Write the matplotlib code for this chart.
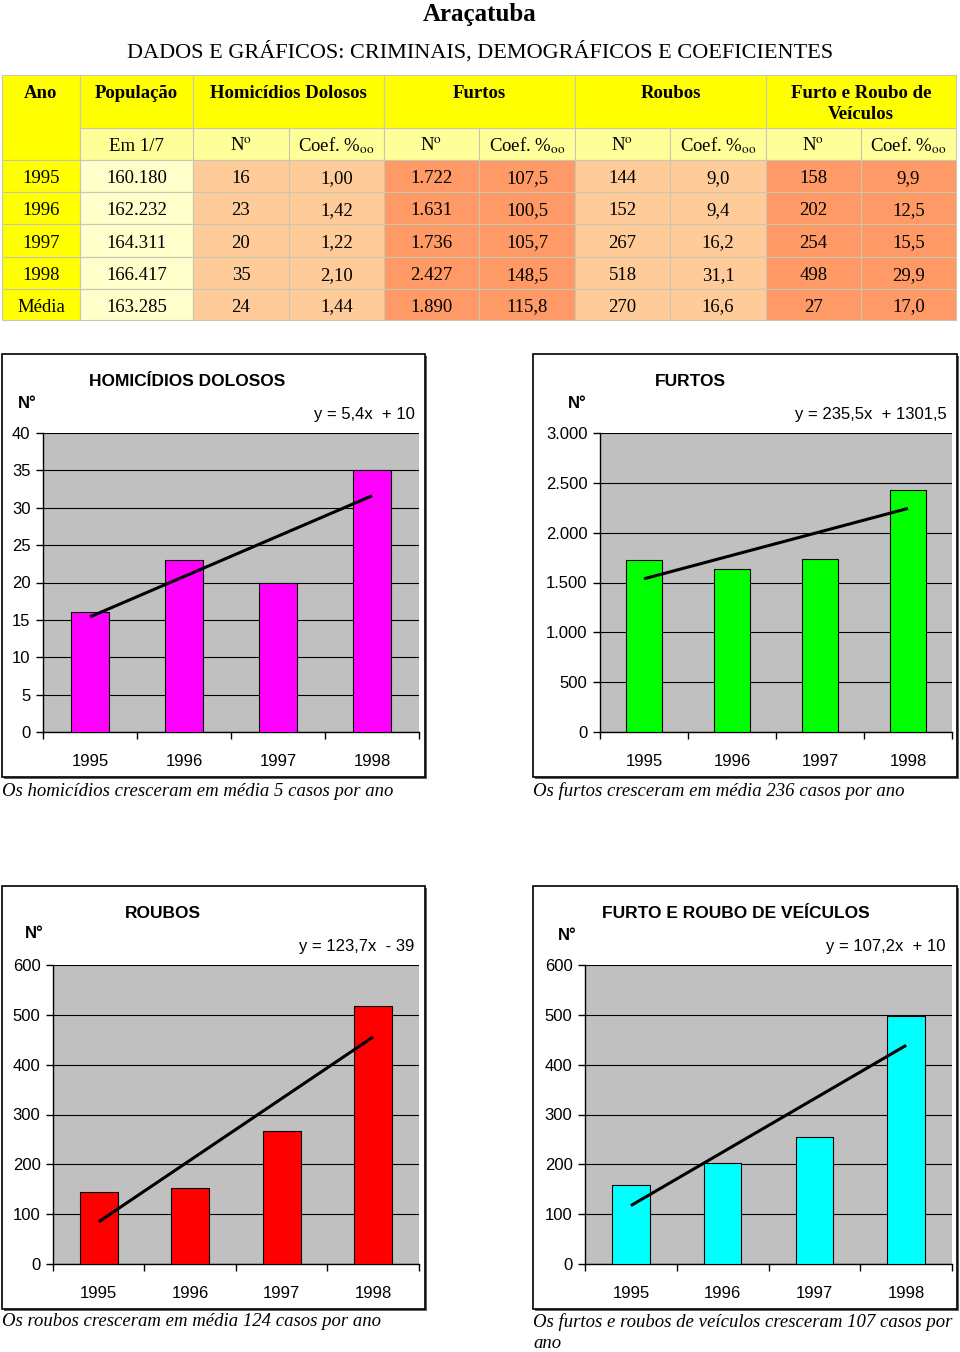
import matplotlib
matplotlib.use('Agg')
import matplotlib.pyplot as plt
from matplotlib.patches import Rectangle
import numpy as np

plt.rcParams['mathtext.fontset'] = 'stix'

W, H = 960, 1352

# Table data
anos = ['1995', '1996', '1997', '1998']
populacao = [160180, 162232, 164311, 166417]
homicidios = [16, 23, 20, 35]
homicidios_coef = [1.00, 1.42, 1.22, 2.10]
furtos = [1722, 1631, 1736, 2427]
furtos_coef = [107.5, 100.5, 105.7, 148.5]
roubos = [144, 152, 267, 518]
roubos_coef = [9.0, 9.4, 16.2, 31.1]
veiculos = [158, 202, 254, 498]
veiculos_coef = [9.9, 12.5, 15.5, 29.9]
# "Média" row as printed in the source
media = [163285, 24, 1.44, 1890, 115.8, 270, 16.6, 27, 17.0]

# trend lines y = a*x + b, x = 1..4
tend_a = [5.4, 235.5, 123.7, 107.2]
tend_b = [10, 1301.5, -39, 10]
tend_txt = ['y = 5,4x  + 10', 'y = 235,5x  + 1301,5', 'y = 123,7x  - 39', 'y = 107,2x  + 10']

SERIF = 'Liberation Serif'
SANS = 'Liberation Sans'


def fmt_int(v):
    return f'{v:,}'.replace(',', '.')


def fmt_dec(v, d):
    return f'{v:.{d}f}'.replace('.', ',')


fig = plt.figure(figsize=(W / 100, H / 100), dpi=100)
bg = fig.add_axes([0, 0, 1, 1])
bg.set_xlim(0, W)
bg.set_ylim(H, 0)
bg.axis('off')

bg.text(480, 14, 'Araçatuba', ha='center', va='center', fontsize=18,
        fontweight='bold', family=SERIF)
bg.text(480, 52, 'DADOS E GRÁFICOS: CRIMINAIS, DEMOGRÁFICOS E COEFICIENTES',
        ha='center', va='center', fontsize=16, family=SERIF)

# ---- table ----
col_x = [2, 80, 193, 289, 384, 479, 575, 670, 766, 861, 956]
row_y = [75, 128, 160, 192, 224, 257, 289, 320]
YEL = '#FFFF00'
PALE = '#FFFF99'
CREAM = '#FFFFCC'
PEACH = '#FFCC99'
ORANGE = '#FF9966'
grp_colors = [PEACH, PEACH, ORANGE, ORANGE, PEACH, PEACH, ORANGE, ORANGE]
line_c = '#C8C8B0'


def cell(c0, c1, r0, r1, color):
    bg.add_patch(Rectangle((col_x[c0], row_y[r0]), col_x[c1] - col_x[c0],
                           row_y[r1] - row_y[r0], facecolor=color,
                           edgecolor=line_c, linewidth=0.8))


def ctext(c0, c1, y, s, bold=False):
    # y is the text baseline
    bg.text((col_x[c0] + col_x[c1]) / 2, y, s, ha='center', va='baseline',
            fontsize=13.5, family=SERIF, fontweight='bold' if bold else 'normal')


# header row
cell(0, 1, 0, 2, YEL)
cell(1, 2, 0, 1, YEL)
for c in (2, 4, 6, 8):
    cell(c, c + 2, 0, 1, YEL)
ctext(0, 1, 98, 'Ano', True)
ctext(1, 2, 98, 'População', True)
ctext(2, 4, 98, 'Homicídios Dolosos', True)
ctext(4, 6, 98, 'Furtos', True)
ctext(6, 8, 98, 'Roubos', True)
ctext(8, 10, 98, 'Furto e Roubo de', True)
ctext(8, 10, 119, 'Veículos', True)

# sub-header row
for c in range(1, 10):
    cell(c, c + 1, 1, 2, PALE)
ybase = (row_y[1] + row_y[2]) / 2 + 7
ctext(1, 2, ybase, 'Em 1/7')
for c in (2, 4, 6, 8):
    ctext(c, c + 1, ybase, r'N$^{\mathrm{o}}$')
    ctext(c + 1, c + 2, ybase, r'Coef. %$_{\mathrm{oo}}$')

rows = []
for i, a in enumerate(anos):
    rows.append([a, fmt_int(populacao[i]), str(homicidios[i]), fmt_dec(homicidios_coef[i], 2),
                 fmt_int(furtos[i]), fmt_dec(furtos_coef[i], 1), str(roubos[i]),
                 fmt_dec(roubos_coef[i], 1), str(veiculos[i]), fmt_dec(veiculos_coef[i], 1)])
rows.append(['Média', fmt_int(media[0]), str(media[1]), fmt_dec(media[2], 2), fmt_int(media[3]),
             fmt_dec(media[4], 1), str(media[5]), fmt_dec(media[6], 1), str(media[7]),
             fmt_dec(media[8], 1)])

for r, vals in enumerate(rows):
    rr = r + 2
    cell(0, 1, rr, rr + 1, YEL)
    cell(1, 2, rr, rr + 1, CREAM)
    for c in range(2, 10):
        cell(c, c + 1, rr, rr + 1, grp_colors[c - 2])
    yb = (row_y[rr] + row_y[rr + 1]) / 2 + 7
    for c, s in enumerate(vals):
        ctext(c, c + 1, yb, s)


# ---- charts ----
def thousand_fmt(v, pos=None):
    return fmt_int(int(v))


def chart(frame, plot, values, ymax, step, color, title, title_xy, n_xy, eq_xy, k, tick_fmt,
          caption, cap_y):
    fx0, fy0, fx1, fy1 = frame
    bg.add_patch(Rectangle((fx0 + 2, fy0 + 2), fx1 - fx0, fy1 - fy0, facecolor='#606060',
                           edgecolor='none', zorder=1))
    bg.add_patch(Rectangle((fx0, fy0), fx1 - fx0, fy1 - fy0, facecolor='white',
                           edgecolor='black', linewidth=1.2, zorder=2))
    bg.text(title_xy[0], title_xy[1], title, ha='center', va='center', fontsize=12.5,
            fontweight='bold', family=SANS, zorder=3)
    bg.text(n_xy[0], n_xy[1], 'N°', ha='left', va='center', fontsize=12,
            fontweight='bold', family=SANS, zorder=3)
    bg.text(eq_xy[0], eq_xy[1], tend_txt[k], ha='right', va='center', fontsize=12,
            family=SANS, zorder=3)
    for txt, yy in zip(caption, cap_y):
        bg.text(fx0, yy, txt, ha='left', va='center', fontsize=13.5,
                style='italic', family=SERIF)

    x0, y0, x1, y1 = plot
    ax = fig.add_axes([x0 / W, 1 - y1 / H, (x1 - x0) / W, (y1 - y0) / H])
    ax.set_facecolor('#C0C0C0')
    xs = np.arange(1, 5)
    ax.bar(xs, values, width=0.41, color=color, edgecolor='black', linewidth=0.8, zorder=3)
    xt = np.array([1, 4])
    ax.plot(xt, tend_a[k] * xt + tend_b[k], color='black', linewidth=2.2, zorder=4,
            solid_capstyle='butt')
    ax.set_xlim(0.5, 4.5)
    ax.set_ylim(0, ymax)
    ax.set_yticks(np.arange(0, ymax + step / 2, step))
    if tick_fmt:
        ax.yaxis.set_major_formatter(plt.FuncFormatter(thousand_fmt))
    ax.set_xticks(xs)
    ax.set_xticklabels(anos)
    ax.set_xticks(np.arange(0.5, 5, 1), minor=True)
    ax.tick_params(axis='x', which='major', length=0, pad=16)
    ax.tick_params(axis='x', which='minor', length=5, width=1, direction='out')
    ax.tick_params(axis='y', length=5, width=1, direction='out', pad=4)
    for lab in ax.get_xticklabels() + ax.get_yticklabels():
        lab.set_family(SANS)
        lab.set_fontsize(12)
    ax.grid(axis='y', color='black', linewidth=0.8)
    ax.set_axisbelow(True)
    ax.spines['top'].set_visible(False)
    ax.spines['right'].set_visible(False)
    ax.spines['left'].set_linewidth(1)
    ax.spines['bottom'].set_linewidth(1)
    return ax


chart((2, 354, 425, 777), (43, 433, 419, 732), homicidios, 40, 5, '#FF00FF',
      'HOMICÍDIOS DOLOSOS', (187, 382), (18, 404), (415, 414), 0, False,
      ['Os homicídios cresceram em média 5 casos por ano'], [791])
chart((533, 354, 957, 777), (600, 433, 952, 732), furtos, 3000, 500, '#00FF00',
      'FURTOS', (690, 382), (568, 404), (947, 414), 1, True,
      ['Os furtos cresceram em média 236 casos por ano'], [791])
chart((2, 886, 425, 1309), (53, 965, 419, 1264), roubos, 600, 100, '#FF0000',
      'ROUBOS', (163, 913), (25, 933), (414, 946), 2, False,
      ['Os roubos cresceram em média 124 casos por ano'], [1322])
chart((533, 886, 957, 1309), (585, 965, 952, 1264), veiculos, 600, 100, '#00FFFF',
      'FURTO E ROUBO DE VEÍCULOS', (736, 913), (558, 936), (946, 946), 3, False,
      ['Os furtos e roubos de veículos cresceram 107 casos por', 'ano'], [1322, 1343])

fig.savefig('out.png', dpi=100, facecolor='white')
